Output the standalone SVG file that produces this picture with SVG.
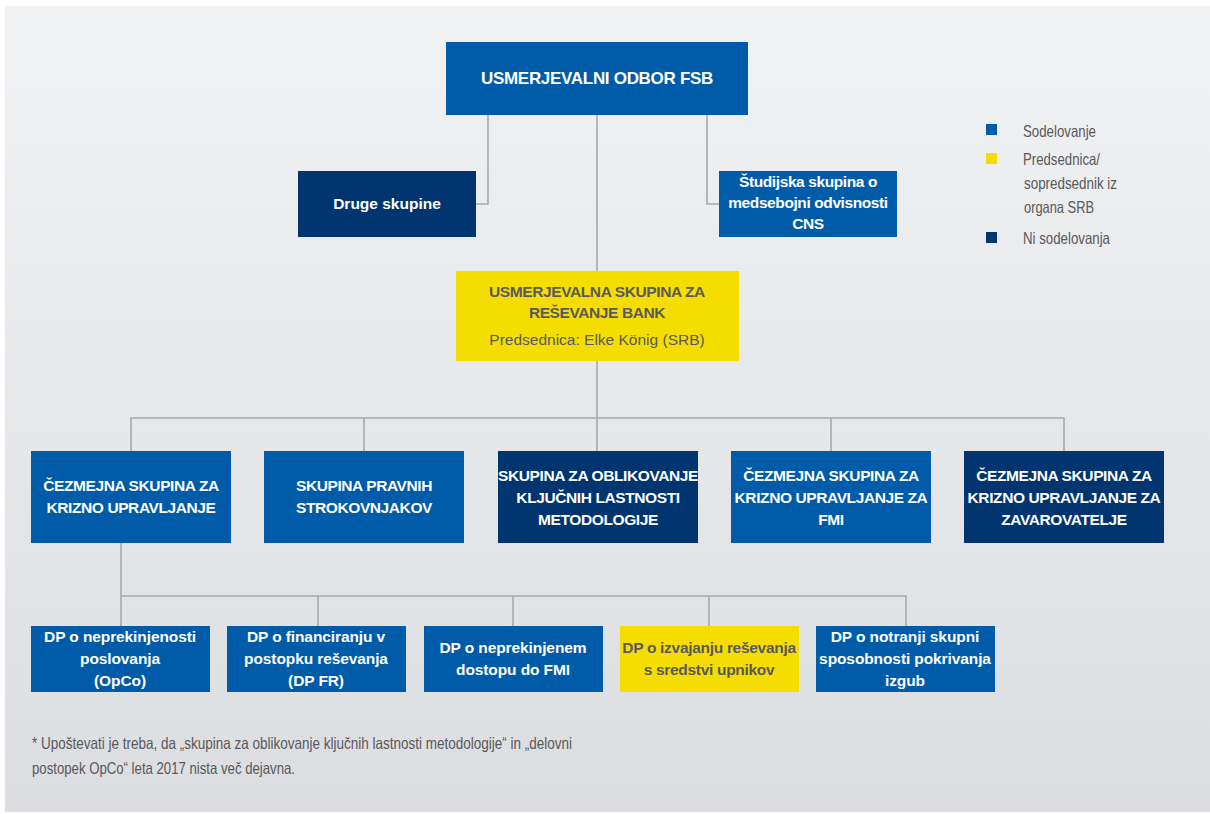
<svg xmlns="http://www.w3.org/2000/svg" width="1210" height="814" viewBox="0 0 1210 814">
<defs>
<linearGradient id="bg" x1="0" y1="0" x2="0" y2="1">
<stop offset="0" stop-color="#f1f2f4"/>
<stop offset="1" stop-color="#dcdde0"/>
</linearGradient>
<style>
.b{fill:#005ba9}
.d{fill:#003570}
.y{fill:#f5dd00}
.t{font-family:"Liberation Sans",Arial,sans-serif;font-weight:bold;font-size:15.5px;fill:#fff;text-anchor:middle;letter-spacing:-0.4px}
.t3{font-family:"Liberation Sans",Arial,sans-serif;font-weight:bold;font-size:15.5px;fill:#fff;text-anchor:middle;letter-spacing:-0.1px}
.ty{font-family:"Liberation Sans",Arial,sans-serif;font-weight:bold;font-size:15.5px;fill:#5a5a5c;text-anchor:middle;letter-spacing:-0.4px}
.ty3{font-family:"Liberation Sans",Arial,sans-serif;font-weight:bold;font-size:15.5px;fill:#5a5a5c;text-anchor:middle;letter-spacing:-0.3px}
.tr{font-family:"Liberation Sans",Arial,sans-serif;font-size:15.5px;fill:#5a5a5c;text-anchor:middle}
.s{font-family:"Liberation Sans",Arial,sans-serif;font-size:16.5px;fill:#58595b}
.c{fill:none;stroke:#a7a9ac;stroke-width:1.6}
</style>
</defs>
<rect x="5" y="6" width="1205" height="806" fill="url(#bg)"/>

<g id="connectors">
<path class="c" d="M488 115V204H476"/>
<path class="c" d="M707 115V204H719"/>
<path class="c" d="M597 115V271"/>
<path class="c" d="M597 361V418"/>
<path class="c" d="M131 451V418H1064V451"/>
<path class="c" d="M364 418V451M597 418V451M831 418V451"/>
<path class="c" d="M121 543V626"/>
<path class="c" d="M121 596H906V626"/>
<path class="c" d="M318 596V626M513 596V626M709 596V626"/>
</g>

<g id="n-fsb"><rect class="b" x="446" y="42" width="302" height="73"/><text class="t" x="597" y="84" style="font-size:17px;letter-spacing:-0.3px">USMERJEVALNI ODBOR FSB</text></g>
<g id="n-druge"><rect class="d" x="298" y="171" width="178" height="66"/><text class="t" x="387" y="209" style="letter-spacing:0">Druge skupine</text></g>
<g id="n-cns"><rect class="b" x="719" y="171" width="178" height="66"/><text class="t" x="808" y="187">Študijska skupina o</text><text class="t" x="808" y="208">medsebojni odvisnosti</text><text class="t" x="808" y="229">CNS</text></g>
<g id="n-rsg"><rect class="y" x="456" y="271" width="283" height="90"/><text class="ty" x="597" y="297">USMERJEVALNA SKUPINA ZA</text><text class="ty" x="597" y="318">REŠEVANJE BANK</text><text class="tr" x="597" y="345">Predsednica: Elke König (SRB)</text></g>

<g id="n-cmg"><rect class="b" x="31" y="451" width="200" height="92"/><text class="t" x="131" y="491">ČEZMEJNA SKUPINA ZA</text><text class="t" x="131" y="513">KRIZNO UPRAVLJANJE</text></g>
<g id="n-legal"><rect class="b" x="264" y="451" width="200" height="92"/><text class="t" x="364" y="491">SKUPINA PRAVNIH</text><text class="t" x="364" y="513">STROKOVNJAKOV</text></g>
<g id="n-method"><rect class="d" x="498" y="451" width="200" height="92"/><text class="t" x="598" y="481">SKUPINA ZA OBLIKOVANJE</text><text class="t" x="598" y="503">KLJUČNIH LASTNOSTI</text><text class="t" x="598" y="525">METODOLOGIJE</text></g>
<g id="n-fmi"><rect class="b" x="731" y="451" width="200" height="92"/><text class="t" x="831" y="481">ČEZMEJNA SKUPINA ZA</text><text class="t" x="831" y="503">KRIZNO UPRAVLJANJE ZA</text><text class="t" x="831" y="525">FMI</text></g>
<g id="n-ins"><rect class="d" x="964" y="451" width="200" height="92"/><text class="t" x="1064" y="481">ČEZMEJNA SKUPINA ZA</text><text class="t" x="1064" y="503">KRIZNO UPRAVLJANJE ZA</text><text class="t" x="1064" y="525">ZAVAROVATELJE</text></g>

<g id="n-opco"><rect class="b" x="31" y="626" width="179" height="66"/><text class="t3" x="120" y="642">DP o neprekinjenosti</text><text class="t3" x="120" y="664">poslovanja</text><text class="t3" x="120" y="686">(OpCo)</text></g>
<g id="n-fr"><rect class="b" x="227" y="626" width="179" height="66"/><text class="t3" x="316" y="642">DP o financiranju v</text><text class="t3" x="316" y="664">postopku reševanja</text><text class="t3" x="316" y="686">(DP FR)</text></g>
<g id="n-fmiacc"><rect class="b" x="424" y="626" width="179" height="66"/><text class="t3" x="513" y="653">DP o neprekinjenem</text><text class="t3" x="513" y="675">dostopu do FMI</text></g>
<g id="n-bailin"><rect class="y" x="620" y="626" width="179" height="66"/><text class="ty3" x="709" y="653">DP o izvajanju reševanja</text><text class="ty3" x="709" y="675">s sredstvi upnikov</text></g>
<g id="n-tlac"><rect class="b" x="816" y="626" width="179" height="66"/><text class="t3" x="905" y="642">DP o notranji skupni</text><text class="t3" x="905" y="664">sposobnosti pokrivanja</text><text class="t3" x="905" y="686">izgub</text></g>

<g id="legend">
<rect class="b" x="986" y="124" width="11" height="11"/><text class="s" x="1023" y="137" textLength="73" lengthAdjust="spacingAndGlyphs">Sodelovanje</text>
<rect class="y" x="986" y="153" width="11" height="11"/><text class="s" x="1023" y="165" textLength="77" lengthAdjust="spacingAndGlyphs">Predsednica/</text><text class="s" x="1024" y="189" textLength="93" lengthAdjust="spacingAndGlyphs">sopredsednik iz</text><text class="s" x="1024" y="213" textLength="70" lengthAdjust="spacingAndGlyphs">organa SRB</text>
<rect class="d" x="986" y="232" width="11" height="11"/><text class="s" x="1023" y="244" textLength="87" lengthAdjust="spacingAndGlyphs">Ni sodelovanja</text>
</g>

<g id="note">
<text class="s" x="32" y="749" textLength="540" lengthAdjust="spacingAndGlyphs">* Upoštevati je treba, da „skupina za oblikovanje ključnih lastnosti metodologije“ in „delovni</text>
<text class="s" x="32" y="774" textLength="263" lengthAdjust="spacingAndGlyphs">postopek OpCo“ leta 2017 nista več dejavna.</text>
</g>
</svg>
